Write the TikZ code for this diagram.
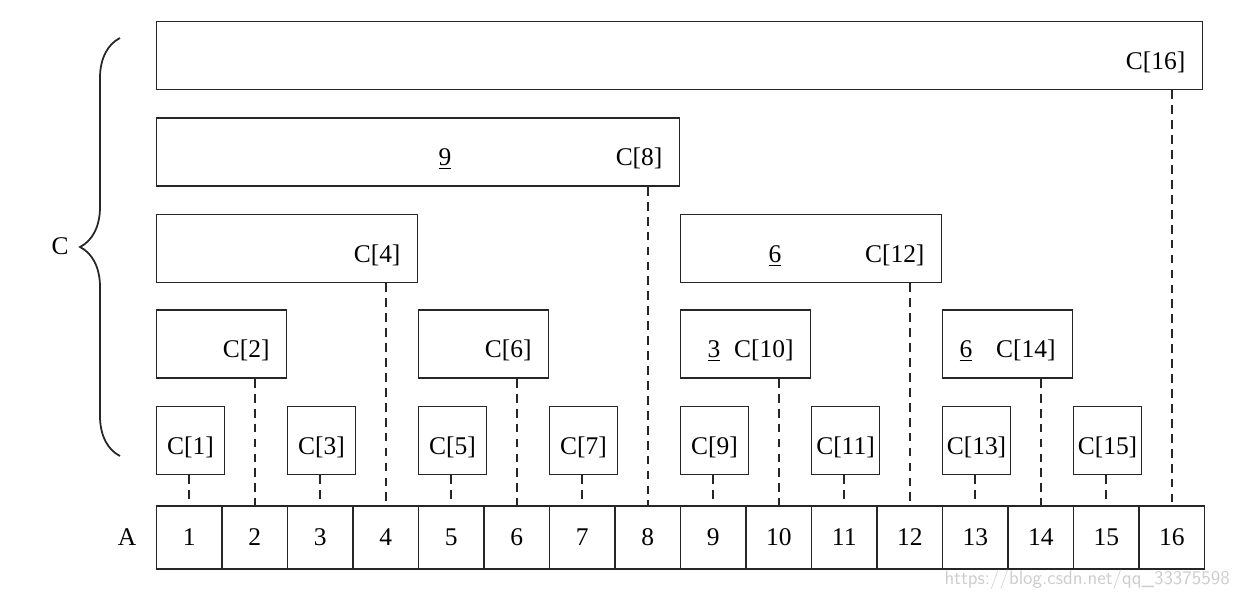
\documentclass[tikz,border=0pt]{standalone}
\usepackage{fontspec}
\setmainfont{Liberation Serif}
\usetikzlibrary{decorations.pathreplacing}

\begin{document}
\begin{tikzpicture}[x=0.02cm, y=-0.02cm, font=\fontsize{14.5}{17}\selectfont]
\tikzset{caseA/.style={draw=black!85, line width=1pt, minimum width=1.31cm, minimum height=1.26cm, inner sep=0pt}}
\tikzset{boiteC/.style={draw=black!85, line width=1pt, inner xsep=0.34cm, inner ysep=0pt, text height=0.96cm, text depth=0.4cm, text width=#1, align=right}}
\tikzset{feuilleC/.style={draw=black!85, line width=1pt, minimum width=1.36cm, minimum height=1.36cm, inner sep=0pt, text height=0.96cm, text depth=0.4cm}}
\tikzset{pointille/.style={draw=black!85, line width=1pt, dash pattern=on 5pt off 3.5pt}}
\useasboundingbox (0,0) rectangle (1242,598);
% tableau A
\node (lA) at (127,537.5) {A};
\node[caseA] (A1) at (189.25,537.5) {1};
\node[caseA] (A2) at (254.75,537.5) {2};
\node[caseA] (A3) at (320.25,537.5) {3};
\node[caseA] (A4) at (385.75,537.5) {4};
\node[caseA] (A5) at (451.25,537.5) {5};
\node[caseA] (A6) at (516.75,537.5) {6};
\node[caseA] (A7) at (582.25,537.5) {7};
\node[caseA] (A8) at (647.75,537.5) {8};
\node[caseA] (A9) at (713.25,537.5) {9};
\node[caseA] (A10) at (778.75,537.5) {10};
\node[caseA] (A11) at (844.25,537.5) {11};
\node[caseA] (A12) at (909.75,537.5) {12};
\node[caseA] (A13) at (975.25,537.5) {13};
\node[caseA] (A14) at (1040.75,537.5) {14};
\node[caseA] (A15) at (1106.25,537.5) {15};
\node[caseA] (A16) at (1171.75,537.5) {16};
% tableau C
\node[boiteC=20.24cm] (C16) at (679.5,55.5) {C[16]};
\node[boiteC=9.78cm] (C8) at (418,152) {C[8]};
\node[boiteC=4.54cm] (C4) at (287,248.5) {C[4]};
\node[boiteC=4.54cm] (C12) at (811,248.5) {C[12]};
\node[boiteC=1.92cm] (C2) at (221.5,344) {C[2]};
\node[boiteC=1.92cm] (C6) at (483.5,344) {C[6]};
\node[boiteC=1.92cm] (C10) at (745.5,344) {C[10]};
\node[boiteC=1.92cm] (C14) at (1007.5,344) {C[14]};
\node[feuilleC] (C1) at (190.5,440.5) {C[1]};
\node[feuilleC] (C3) at (321.5,440.5) {C[3]};
\node[feuilleC] (C5) at (452.5,440.5) {C[5]};
\node[feuilleC] (C7) at (583.5,440.5) {C[7]};
\node[feuilleC] (C9) at (714.5,440.5) {C[9]};
\node[feuilleC] (C11) at (845.5,440.5) {C[11]};
\node[feuilleC] (C13) at (976.5,440.5) {C[13]};
\node[feuilleC] (C15) at (1107.5,440.5) {C[15]};
\node[anchor=base] (n8) at ([xshift=0.54cm]C8.base) {\underline{9}};
\node[anchor=base] (n12) at ([xshift=-0.72cm]C12.base) {\underline{6}};
\node[anchor=base] (n10) at ([xshift=-0.63cm]C10.base) {\underline{3}};
\node[anchor=base] (n14) at ([xshift=-0.83cm]C14.base) {\underline{6}};
% liens
\draw[pointille] (C1.south -| A1.north) -- (A1.north);
\draw[pointille] (C2.south -| A2.north) -- (A2.north);
\draw[pointille] (C3.south -| A3.north) -- (A3.north);
\draw[pointille] (C4.south -| A4.north) -- (A4.north);
\draw[pointille] (C5.south -| A5.north) -- (A5.north);
\draw[pointille] (C6.south -| A6.north) -- (A6.north);
\draw[pointille] (C7.south -| A7.north) -- (A7.north);
\draw[pointille] (C8.south -| A8.north) -- (A8.north);
\draw[pointille] (C9.south -| A9.north) -- (A9.north);
\draw[pointille] (C10.south -| A10.north) -- (A10.north);
\draw[pointille] (C11.south -| A11.north) -- (A11.north);
\draw[pointille] (C12.south -| A12.north) -- (A12.north);
\draw[pointille] (C13.south -| A13.north) -- (A13.north);
\draw[pointille] (C14.south -| A14.north) -- (A14.north);
\draw[pointille] (C15.south -| A15.north) -- (A15.north);
\draw[pointille] (C16.south -| A16.north) -- (A16.north);
% accolade
\draw[black!85, line width=1pt, decorate, decoration={brace, amplitude=0.8cm}] (120,456) -- (120,38);
\node (lC) at (60,246) {C};
\node[anchor=east, black!20, font=\sffamily\fontsize{11}{13}\selectfont] (wm) at (1236,580) {https://blog.csdn.net/qq\_33375598};
\end{tikzpicture}
\end{document}
